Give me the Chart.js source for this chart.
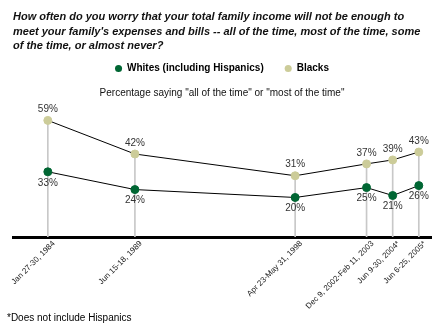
<!DOCTYPE html>
<html>
<head>
<meta charset="utf-8">
<script src="https://cdn.jsdelivr.net/npm/chart.js@4"></script>
<style>
  html, body { margin: 0; padding: 0; background: #fff; }
  #wrap { width: 440px; height: 330px; }
</style>
</head>
<body>
<div id="wrap"><canvas id="incomeChart" width="440" height="330"></canvas></div>
<script>
// poll dates, placed as decimal years
const pollX = [1984.1, 1989.1, 1998.3, 2002.4, 2003.9, 2005.4];
const tickLabels = ["Jan 27-30, 1984", "Jun 15-18, 1989", "Apr 23-May 31, 1998",
                    "Dec 9, 2002-Feb 11, 2003", "Jun 9-30, 2004*", "Jun 6-25, 2005*"];
const whites = [33, 24, 20, 25, 21, 26];
const blacks = [59, 42, 31, 37, 39, 43];

const GREEN = "#006633";
const TAN = "#cccc99";
const FONT = "'Liberation Sans', Arial, sans-serif";

// ---------------------------------------------
// value labels: blacks above, whites below
// ---------------------------------------------
const valueLabels = {
    id: "valueLabels",
    afterDatasetsDraw(chart) {
        const ctx = chart.ctx;
        ctx.save();
        ctx.font = "10px " + FONT;
        ctx.fillStyle = "#333";
        ctx.textAlign = "center";
        ctx.textBaseline = "middle";
        chart.data.datasets.forEach((ds, i) => {
            if (ds.type === "bar") return;
            const meta = chart.getDatasetMeta(i);
            const above = ds.label === "Blacks";
            meta.data.forEach((pt, j) => {
                const y = above ? pt.y - 11 : pt.y + 11;
                ctx.fillText(ds.data[j].y + "%", pt.x, y);
            });
        });
        ctx.restore();
    }
};

// footnote
const footnote = {
    id: "footnote",
    afterDraw(chart) {
        const ctx = chart.ctx;
        ctx.save();
        ctx.font = "10px " + FONT;
        ctx.fillStyle = "#000";
        ctx.textAlign = "left";
        ctx.textBaseline = "middle";
        ctx.fillText("*Does not include Hispanics", 7, 318);
        ctx.restore();
    }
};

const ctx = document.getElementById("incomeChart").getContext("2d");

new Chart(ctx, {
    type: "line",
    data: {
        datasets: [
            {
                label: "Whites (including Hispanics)",
                data: pollX.map((x, i) => ({ x: x, y: whites[i] })),
                borderColor: "#000",
                borderWidth: 1,
                backgroundColor: GREEN,
                pointBackgroundColor: GREEN,
                pointBorderColor: GREEN,
                pointRadius: 4,
                tension: 0,
                order: 1
            },
            {
                label: "Blacks",
                data: pollX.map((x, i) => ({ x: x, y: blacks[i] })),
                borderColor: "#000",
                borderWidth: 1,
                backgroundColor: TAN,
                pointBackgroundColor: TAN,
                pointBorderColor: TAN,
                pointRadius: 4,
                tension: 0,
                order: 2
            },
            {
                // drop lines from the top point to the axis
                type: "bar",
                label: "drop",
                data: pollX.map((x, i) => ({ x: x, y: blacks[i] })),
                backgroundColor: "#c8c8c8",
                barThickness: 1,
                order: 3
            }
        ]
    },
    options: {
        responsive: false,
        animation: false,
        layout: { padding: { left: 13, right: 9, top: 0, bottom: 0 } },
        plugins: {
            title: {
                display: true,
                align: "start",
                text: [
                    "How often do you worry that your total family income will not be enough to",
                    "meet your family's expenses and bills -- all of the time, most of the time, some",
                    "of the time, or almost never?"
                ],
                color: "#111",
                font: { family: FONT, size: 11, weight: "bold", style: "italic", lineHeight: 1.32 },
                padding: { top: 10, bottom: -11 }
            },
            legend: {
                display: true,
                labels: {
                    usePointStyle: true,
                    pointStyle: "circle",
                    boxWidth: 7,
                    boxHeight: 5,
                    padding: 21,
                    color: "#000",
                    font: { family: FONT, size: 10, weight: "bold" },
                    generateLabels: chart => chart.data.datasets
                        .filter(ds => ds.type !== "bar")
                        .map((ds, i) => ({
                            text: ds.label,
                            fillStyle: ds.pointBackgroundColor,
                            strokeStyle: ds.pointBackgroundColor,
                            lineWidth: 0,
                            pointStyle: "circle",
                            datasetIndex: i,
                            hidden: false
                        }))
                }
            },
            subtitle: {
                display: true,
                weight: 500,
                text: 'Percentage saying "all of the time" or "most of the time"',
                color: "#111",
                font: { family: FONT, size: 10 },
                padding: { top: 4, bottom: 8 }
            },
            tooltip: { enabled: false }
        },
        scales: {
            x: {
                type: "linear",
                min: 1982.1,
                max: 2006.1,
                offset: false,
                grid: { display: false, drawTicks: false },
                border: { display: true, color: "#000", width: 3 },
                afterBuildTicks: scale => {
                    scale.ticks = pollX.map(v => ({ value: v }));
                },
                afterFit: scale => { scale.height = 93; },
                ticks: {
                    autoSkip: false,
                    minRotation: 45,
                    maxRotation: 45,
                    padding: 2,
                    labelOffset: 6,
                    color: "#222",
                    font: { family: FONT, size: 8 },
                    callback: (value, index) => tickLabels[index]
                }
            },
            y: {
                display: false,
                min: 0,
                max: 65.5
            }
        }
    },
    plugins: [valueLabels, footnote]
});
</script>
</body>
</html>
